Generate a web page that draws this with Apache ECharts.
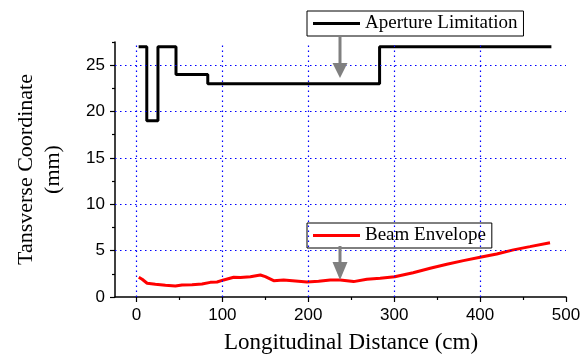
<!DOCTYPE html>
<html>
<head>
<meta charset="utf-8">
<script src="https://cdn.jsdelivr.net/npm/echarts@6/dist/echarts.min.js"></script>
<style>html,body{margin:0;padding:0;background:#fff}#c{width:586px;height:357px}</style>
</head>
<body>
<div id="c"></div>
<script>
// Data
const apertureX = [2.5, 12, 12, 25, 25, 46, 46, 83, 83, 283, 283, 483];
const apertureY = [27, 27, 19, 19, 27, 27, 24, 24, 23, 23, 27, 27];
const beamX = [2.7, 6.6, 12.4, 22, 33.7, 45.3, 53, 64.7, 76.3, 86, 93.8, 101.5, 113.2, 121, 132.6, 144.2, 150, 159.7, 171.3, 185, 198.5, 212, 225.6, 237.2, 252.7, 268.2, 283.7, 300.6, 322, 341.9, 361.3, 380.6, 400, 419.4, 438.8, 458, 481.4];
const beamY = [2.13, 1.91, 1.48, 1.37, 1.26, 1.19, 1.3, 1.33, 1.4, 1.58, 1.62, 1.84, 2.13, 2.1, 2.19, 2.37, 2.19, 1.76, 1.84, 1.73, 1.62, 1.69, 1.84, 1.84, 1.66, 1.91, 2.02, 2.19, 2.62, 3.1, 3.53, 3.92, 4.28, 4.64, 5.08, 5.43, 5.86];
const xTicks = [0, 100, 200, 300, 400, 500];
const xMinorTicks = [50, 150, 250, 350, 450];
const yTicks = [0, 5, 10, 15, 20, 25];
const yMinorTicks = [2.5, 7.5, 12.5, 17.5, 22.5, 27.5];
const xGrid = [0, 100, 200, 300, 400];
const yGrid = [5, 10, 15, 20, 25];
const seriesNames = ['Aperture Limitation', 'Beam Envelope'];
const xTitle = 'Longitudinal Distance (cm)';
const yTitle = 'Tansverse Coordinate\n(mm)';

const chart = echarts.init(document.getElementById('c'), null, {renderer: 'canvas'});
const serif = '"Liberation Serif","Times New Roman",serif';
const sans = '"Liberation Sans",Arial,sans-serif';
const gridStyle = {color: '#0000ff', width: 1.2, type: [1.5, 3.5]};

const option = {
  animation: false,
  backgroundColor: '#fff',
  grid: {left: 115, right: 20, top: 42, bottom: 60, containLabel: false, outerBoundsMode: 'none'},
  xAxis: [
    {type: 'value', min: -25, max: 500,
     axisLine: {show: true, onZero: false, lineStyle: {color: '#000', width: 1.5}},
     axisTick: {show: true, customValues: xTicks, length: 5, inside: false, lineStyle: {color: '#000', width: 1.2}},
     axisLabel: {show: true, customValues: xTicks, margin: 10, color: '#000', fontFamily: sans, fontSize: 17},
     splitLine: {show: false},
     name: xTitle, nameLocation: 'middle', nameGap: 34,
     nameTextStyle: {fontFamily: serif, fontSize: 23, color: '#000', padding: [0, 0, 0, 21]}},
    {type: 'value', min: -25, max: 500, position: 'bottom', offset: 0,
     axisLine: {show: false, onZero: false},
     axisTick: {show: true, customValues: xMinorTicks, length: 3, lineStyle: {color: '#000', width: 1.2}},
     axisLabel: {show: false}, splitLine: {show: false}}
  ],
  yAxis: [
    {type: 'value', min: 0, max: 27.5,
     axisLine: {show: true, onZero: false, lineStyle: {color: '#000', width: 1.5}},
     axisTick: {show: true, customValues: yTicks, length: 5, lineStyle: {color: '#000', width: 1.2}},
     axisLabel: {show: true, customValues: yTicks, margin: 10, color: '#000', fontFamily: sans, fontSize: 17},
     splitLine: {show: false},
     name: yTitle, nameLocation: 'middle', nameGap: 48, nameRotate: 90,
     nameTextStyle: {fontFamily: serif, fontSize: 22, lineHeight: 27, color: '#000', align: 'center'}},
    {type: 'value', min: 0, max: 27.5, position: 'left', offset: 0,
     axisLine: {show: false, onZero: false},
     axisTick: {show: true, customValues: yMinorTicks, length: 3, lineStyle: {color: '#000', width: 1.2}},
     axisLabel: {show: false}, splitLine: {show: false}}
  ],
  legend: [
    {data: [{name: seriesNames[0], icon: 'rect'}], left: 307, top: 11, orient: 'horizontal',
     backgroundColor: '#fff', borderColor: '#000', borderWidth: 1,
     padding: [3, 6, 3, 6], itemWidth: 47, itemHeight: 3, itemGap: 5,
     textStyle: {fontFamily: serif, fontSize: 19, color: '#000'},
     selectedMode: false},
    {data: [{name: seriesNames[1], icon: 'rect'}], left: 307, top: 223, orient: 'horizontal',
     backgroundColor: '#fff', borderColor: '#000', borderWidth: 1,
     padding: [3, 6, 3, 6], itemWidth: 47, itemHeight: 3, itemGap: 5,
     textStyle: {fontFamily: serif, fontSize: 19, color: '#000'},
     selectedMode: false}
  ],
  series: [
    {type: 'line', name: '_grid', z: 1, data: [], silent: true,
     markLine: {silent: true, symbol: 'none', label: {show: false}, lineStyle: gridStyle,
       emphasis: {disabled: true},
       data: xGrid.map(v => ({xAxis: v})).concat(yGrid.map(v => ({yAxis: v})))}},
    {type: 'line', name: seriesNames[0], z: 3, symbol: 'none', showSymbol: false,
     lineStyle: {color: '#000', width: 3}, itemStyle: {color: '#000'},
     data: apertureX.map((x, i) => [x, apertureY[i]])},
    {type: 'line', name: seriesNames[1], z: 3, symbol: 'none', showSymbol: false,
     lineStyle: {color: '#ff0000', width: 3}, itemStyle: {color: '#ff0000'},
     data: beamX.map((x, i) => [x, beamY[i]])}
  ],
  graphic: [
    {type: 'line', z: 100, shape: {x1: 340, y1: 36, x2: 340, y2: 64}, style: {stroke: '#808080', lineWidth: 3}},
    {type: 'polygon', z: 100, shape: {points: [[332.5, 63], [347.5, 63], [340, 78]]}, style: {fill: '#808080'}},
    {type: 'line', z: 100, shape: {x1: 340, y1: 246, x2: 340, y2: 263}, style: {stroke: '#808080', lineWidth: 3}},
    {type: 'polygon', z: 100, shape: {points: [[332.5, 262], [347.5, 262], [340, 280]]}, style: {fill: '#808080'}}
  ]
};
chart.setOption(option);
</script>
</body>
</html>
